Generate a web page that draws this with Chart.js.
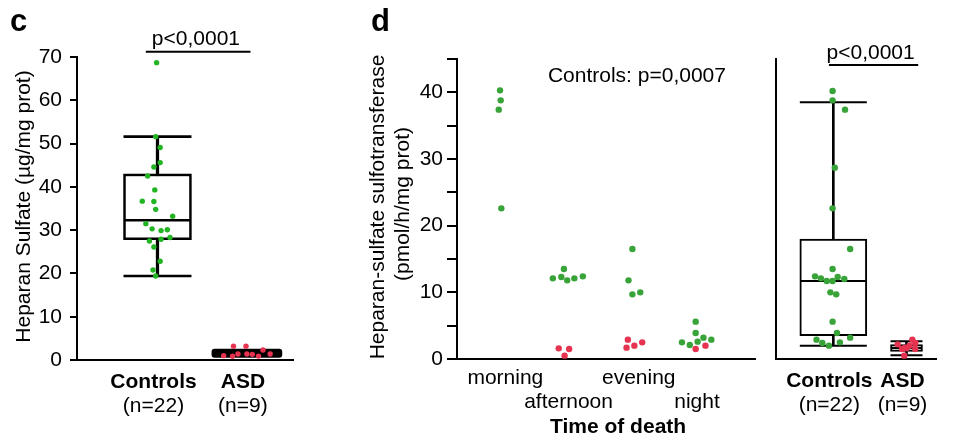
<!DOCTYPE html>
<html><head><meta charset="utf-8">
<script src="https://cdn.jsdelivr.net/npm/chart.js@4.4.1/dist/chart.umd.min.js"></script>
<style>
html,body{margin:0;padding:0;background:#fff;}
#wrap{position:relative;width:972px;height:437px;overflow:hidden;background:#fff;}
canvas{position:absolute;top:0;}
</style></head><body>
<div id="wrap">
<canvas id="c" width="330" height="437" style="left:0px"></canvas>
<canvas id="dl" width="430" height="437" style="left:330px"></canvas>
<canvas id="dr" width="232" height="437" style="left:740px"></canvas>
</div>
<script>
// ================= DATA =================
// Panel c: Heparan sulfate
const cGroups = ['Controls', 'ASD'];
const cGroupN = ['(n=22)', '(n=9)'];
const cYTicks = [0, 10, 20, 30, 40, 50, 60, 70];
const cControls = [68.7, 51.6, 49.1, 45.6, 44.6, 42.5, 39.3, 36.7, 36.6, 34.8, 33.2, 31.5, 30.3, 29.9, 30.1, 28.3, 27.5, 27.9, 26.1, 22.8, 20.8, 19.4];
const cControlsJitter = [-0.01, -0.02, 0.03, 0.03, -0.04, -0.11, -0.03, -0.17, -0.04, -0.02, 0.17, -0.13, -0.06, 0.04, 0.11, 0.14, -0.09, 0.04, -0.04, 0.03, -0.05, -0.02];
const cASD = [1.0, 0.85, 1.4, 3.2, 3.2, 1.4, 1.3, 0.9, 2.3, 1.4];
const cASDJitter = [-0.26, -0.16, -0.10, -0.15, -0.01, 0.0, 0.06, 0.13, 0.18, 0.26];
const cBoxQ1 = [27.8, 0.6];
const cBoxMedian = [32.3, null];
const cBoxQ3 = [43.0, 2.5];
const cWhiskerLow = [19.4, null];
const cWhiskerHigh = [51.6, null];
const cYTitle = 'Heparan Sulfate (µg/mg prot)';
const cPValue = 'p<0,0001';

// Panel d (left): by time of death
const timeLabels = ['morning', 'afternoon', 'evening', 'night'];
const dYTicks = [0, 5, 10, 15, 20, 25, 30, 35, 40, 45];
const morningCtrl = [40.3, 38.8, 37.4, 22.6];
const morningCtrlJitter = [-0.02, -0.01, -0.04, 0.0];
const afternoonCtrl = [12.1, 12.3, 13.5, 11.8, 12.1, 12.4];
const afternoonCtrlJitter = [-0.21, -0.08, -0.04, 0.01, 0.12, 0.25];
const afternoonASD = [1.6, 1.5, 0.5];
const afternoonASDJitter = [-0.12, 0.04, -0.03];
const eveningCtrl = [16.5, 11.8, 9.7, 10.0];
const eveningCtrlJitter = [0.01, -0.05, 0.01, 0.13];
const eveningASD = [2.9, 1.7, 2.0, 2.5];
const eveningASDJitter = [-0.06, -0.08, 0.04, 0.16];
const nightCtrl = [5.6, 3.9, 2.5, 2.1, 2.6, 3.2, 2.9];
const nightCtrlJitter = [-0.02, -0.02, -0.23, -0.11, 0.01, 0.10, 0.22];
const nightASD = [1.5, 2.0];
const nightASDJitter = [-0.02, 0.13];
const dYTitle = ['Heparan-sulfate sulfotransferase', '(pmol/h/mg prot)'];
const dXTitle = 'Time of death';
const dTrendText = 'Controls: p=0,0007';

// Panel d (right): groups
const dGroups = ['Controls', 'ASD'];
const dGroupN = ['(n=22)', '(n=9)'];
const dControls = [40.2, 38.8, 37.4, 28.7, 22.6, 16.5, 13.5, 12.4, 12.1, 11.7, 11.7, 12.3, 12.0, 10.0, 9.7, 5.6, 3.9, 2.9, 2.4, 2.0, 2.5, 3.2];
const dControlsJitter = [-0.01, -0.01, 0.16, 0.02, -0.01, 0.23, -0.01, -0.25, -0.17, -0.09, -0.01, 0.06, 0.15, -0.04, 0.04, -0.01, 0.05, -0.23, -0.15, -0.06, 0.09, 0.23];
const dASD = [2.9, 2.2, 2.4, 1.7, 1.5, 0.5, 1.6, 2.0, 1.5];
const dASDJitter = [0.08, -0.12, 0.12, -0.02, 0.12, -0.03, 0.0, 0.04, -0.06];
const dBoxQ1 = [3.5, 1.15];
const dBoxMedian = [11.7, 1.65];
const dBoxQ3 = [18.0, 2.15];
const dWhiskerLow = [2.0, 0.55];
const dWhiskerHigh = [38.5, 2.65];
const dPValue = 'p<0,0001';

// ================= STYLE / HELPERS =================
const FONT = '"Liberation Sans", Arial, Helvetica, sans-serif';
Chart.defaults.font.family = FONT;
Chart.defaults.font.size = 21;
Chart.defaults.color = '#000';
const GREEN_C = '#22b422';
const GREEN_D = '#38a338';
const RED = '#e63350';

function pts(values, jitter, center) {
  return values.map((v, i) => ({ x: center + jitter[i], y: v }));
}
function scatterDs(data, color, r) {
  return { type: 'scatter', data, backgroundColor: color, borderColor: color,
    pointRadius: r, pointBorderWidth: 0, pointHoverRadius: r, showLine: false, order: 0, clip: false };
}
function stemDs(center, lo, hi, lw) {
  return { type: 'bar', data: [{ x: center, y: [lo, hi] }], backgroundColor: '#000',
    borderWidth: 0, barThickness: lw, grouped: false, order: 3, clip: false };
}
function boxDs(center, q1, q3, width, fill, border, radius) {
  return { type: 'bar', data: [{ x: center, y: [q1, q3] }], backgroundColor: fill, borderColor: '#000',
    borderWidth: border, borderSkipped: false, borderRadius: radius || 0, barThickness: width,
    grouped: false, order: 2, clip: false };
}
function lineMarksDs(data, radius, lw) {
  return { type: 'scatter', data, pointStyle: 'line', pointRadius: radius, pointHoverRadius: radius,
    pointBorderWidth: lw, borderColor: '#000', backgroundColor: '#000', showLine: false, order: 1, clip: false };
}
function boxSet(q1, med, q3, lo, hi, widths, fills, borders, radii, lw) {
  const out = [];
  q1.forEach((_, i) => {
    const c = i + 1;
    if (lo[i] != null && hi[i] != null) {
      out.push(stemDs(c, lo[i], hi[i], lw));
      out.push(lineMarksDs([{ x: c, y: lo[i] }, { x: c, y: hi[i] }], widths[i] / 2, lw));
    }
    out.push(boxDs(c, q1[i], q3[i], widths[i], fills[i], borders[i], radii[i]));
    if (med[i] != null) out.push(lineMarksDs([{ x: c, y: med[i] }], widths[i] / 2 - 1, lw));
  });
  return out;
}
function hiddenX(min, max, height) {
  return { type: 'linear', min, max, offset: false, grid: { display: false }, ticks: { display: false },
    border: { display: true, color: '#000', width: 2 }, afterFit: s => { s.height = height; } };
}
function yAxis(min, max, tickVals, width, tickLen, pad, labelFn) {
  return { type: 'linear', min, max,
    afterBuildTicks: s => { s.ticks = tickVals.map(v => ({ value: v })); },
    ticks: { autoSkip: false, padding: pad, color: '#000', font: { size: 21 }, callback: labelFn },
    grid: { display: true, drawOnChartArea: false, drawTicks: true, tickLength: tickLen, color: '#000', lineWidth: 2 },
    border: { display: true, color: '#000', width: 2 },
    afterFit: s => { s.width = width; } };
}
function baseOpts(padding, scales) {
  return { responsive: false, animation: false, events: [], layout: { padding },
    plugins: { legend: { display: false }, tooltip: { enabled: false } }, scales };
}
function rotText(ctx, txt, x, y) {
  ctx.save(); ctx.translate(x, y); ctx.rotate(-Math.PI / 2);
  ctx.textAlign = 'center'; ctx.textBaseline = 'middle'; ctx.fillText(txt, 0, 0); ctx.restore();
}
function groupLabels(ctx, chart, groups, ns) {
  const { chartArea: a, scales: { x } } = chart;
  ctx.textAlign = 'center'; ctx.textBaseline = 'alphabetic';
  groups.forEach((g, i) => {
    const px = x.getPixelForValue(i + 1) - 4;
    ctx.font = 'bold 21px ' + FONT; ctx.fillText(g, px, a.bottom + 28);
    ctx.font = '21px ' + FONT; ctx.fillText(ns[i], px, a.bottom + 52);
  });
}
function bracket(ctx, chart, x0, x1, yv, text, tx, ty) {
  const { scales: { x, y } } = chart;
  ctx.lineWidth = 2; ctx.strokeStyle = '#000';
  ctx.beginPath();
  ctx.moveTo(x.getPixelForValue(x0), y.getPixelForValue(yv));
  ctx.lineTo(x.getPixelForValue(x1), y.getPixelForValue(yv));
  ctx.stroke();
  ctx.font = '21px ' + FONT; ctx.textAlign = 'center'; ctx.textBaseline = 'alphabetic';
  ctx.fillText(text, x.getPixelForValue(tx), y.getPixelForValue(ty));
}

// ================= PANEL C =================
const cText = { id: 'cText', afterDraw(chart) {
  const { ctx, chartArea: a } = chart;
  ctx.save(); ctx.fillStyle = '#000';
  ctx.font = 'bold 31px ' + FONT; ctx.textAlign = 'left'; ctx.textBaseline = 'alphabetic';
  ctx.fillText('c', 10, 31);
  ctx.font = '21px ' + FONT;
  rotText(ctx, cYTitle, a.left - 53, (a.top + a.bottom) / 2 - 2);
  bracket(ctx, chart, 0.87, 2.04, 71.2, cPValue, 1.43, 72.7);
  groupLabels(ctx, chart, cGroups, cGroupN);
  ctx.restore();
} };
new Chart(document.getElementById('c'), {
  type: 'scatter',
  data: { datasets: [
    ...boxSet(cBoxQ1, cBoxMedian, cBoxQ3, cWhiskerLow, cWhiskerHigh, [68, 70], ['#fff', '#000'], [2.6, 0], [0, 3], 2.6),
    scatterDs(pts(cControls, cControlsJitter, 1), GREEN_C, 2.7),
    scatterDs(pts(cASD, cASDJitter, 2), RED, 2.7)
  ] },
  options: baseOpts({ top: 57, right: 13, bottom: 0, left: 0 }, {
    x: hiddenX(0.1, 2.52, 77),
    y: yAxis(0, 70, cYTicks, 77, 7, 8, v => v)
  }),
  plugins: [cText]
});

// ================= PANEL D LEFT =================
const dTimeLabelShift = [4, 2, 7, 0];
const dlText = { id: 'dlText', afterDraw(chart) {
  const { ctx, chartArea: a, scales: { x, y } } = chart;
  ctx.save(); ctx.fillStyle = '#000';
  ctx.font = 'bold 31px ' + FONT; ctx.textAlign = 'left'; ctx.textBaseline = 'alphabetic';
  ctx.fillText('d', 41, 31);
  ctx.font = '21px ' + FONT;
  rotText(ctx, dYTitle[0], a.left - 79, 207);
  rotText(ctx, dYTitle[1], a.left - 54, 204);
  ctx.textAlign = 'left';
  ctx.fillText(dTrendText, x.getPixelForValue(1.714), y.getPixelForValue(41.6));
  ctx.textAlign = 'center';
  timeLabels.forEach((t, i) => {
    ctx.fillText(t, x.getPixelForValue(i + 1) + dTimeLabelShift[i], a.bottom + (i % 2 === 0 ? 24.5 : 48.5));
  });
  ctx.font = 'bold 21px ' + FONT;
  ctx.fillText(dXTitle, x.getPixelForValue(2.79), a.bottom + 73.5);
  ctx.restore();
} };
new Chart(document.getElementById('dl'), {
  type: 'scatter',
  data: { datasets: [
    scatterDs(pts(morningCtrl, morningCtrlJitter, 1), GREEN_D, 3.2),
    scatterDs(pts(afternoonCtrl, afternoonCtrlJitter, 2), GREEN_D, 3.2),
    scatterDs(pts(afternoonASD, afternoonASDJitter, 2), RED, 3.2),
    scatterDs(pts(eveningCtrl, eveningCtrlJitter, 3), GREEN_D, 3.2),
    scatterDs(pts(eveningASD, eveningASDJitter, 3), RED, 3.2),
    scatterDs(pts(nightCtrl, nightCtrlJitter, 4), GREEN_D, 3.2),
    scatterDs(pts(nightASD, nightASDJitter, 4), RED, 3.2)
  ] },
  options: baseOpts({ top: 59, right: 5, bottom: 0, left: 0 }, {
    x: hiddenX(0.32, 4.89, 78),
    y: yAxis(0, 45, dYTicks, 127, 10, 4, v => (v % 10 === 0 ? v : ''))
  }),
  plugins: [dlText]
});

// ================= PANEL D RIGHT =================
const drText = { id: 'drText', afterDraw(chart) {
  const { ctx } = chart;
  ctx.save(); ctx.fillStyle = '#000';
  bracket(ctx, chart, 0.94, 2.16, 44.1, dPValue, 1.51, 44.95);
  groupLabels(ctx, chart, dGroups, dGroupN);
  ctx.restore();
} };
new Chart(document.getElementById('dr'), {
  type: 'scatter',
  data: { datasets: [
    ...boxSet(dBoxQ1, dBoxMedian, dBoxQ3, dWhiskerLow, dWhiskerHigh, [67, 32], ['#fff', '#fff'], [2, 2], [0, 0], 2),
    scatterDs(pts(dControls, dControlsJitter, 1), GREEN_D, 3.2),
    scatterDs(pts(dASD, dASDJitter, 2), RED, 3.2)
  ] },
  options: baseOpts({ top: 59, right: 0, bottom: 0, left: 0 }, {
    x: hiddenX(0.21, 2.41, 78),
    y: { type: 'linear', min: 0, max: 45, ticks: { display: false }, grid: { display: false },
         border: { display: true, color: '#000', width: 2 }, afterFit: s => { s.width = 18; } }
  }),
  plugins: [drText]
});
</script>
</body></html>
